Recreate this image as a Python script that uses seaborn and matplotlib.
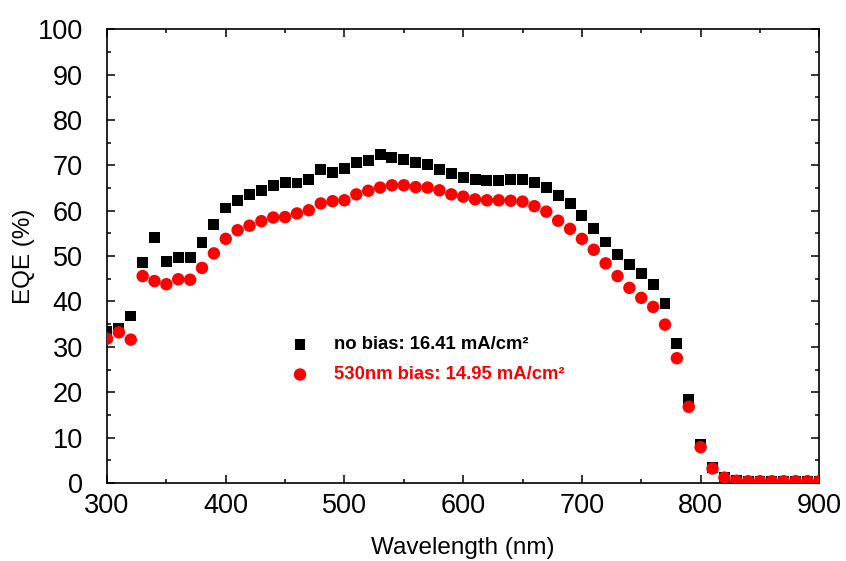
import pandas as pd
import matplotlib
matplotlib.use("Agg")
import matplotlib.pyplot as plt
import seaborn as sns
from matplotlib.ticker import MultipleLocator

sns.set_style("ticks")
matplotlib.rcParams['font.family'] = ["Liberation Sans", "DejaVu Sans"]
matplotlib.rcParams['text.color'] = "black"
matplotlib.rcParams['axes.labelcolor'] = "black"
matplotlib.rcParams['xtick.color'] = "black"
matplotlib.rcParams['ytick.color'] = "black"

# %% data
wavelength = list(range(300, 901, 10))

eqe_no_bias = [33.3, 34.0, 36.8, 48.5, 54.0, 48.9, 49.6, 49.6, 52.9, 56.9,
               60.6, 62.3, 63.6, 64.4, 65.5, 66.3, 66.1, 66.9, 69.1, 68.5,
               69.2, 70.6, 71.0, 72.4, 71.7, 71.3, 70.6, 70.1, 69.1, 68.2,
               67.4, 66.9, 66.6, 66.7, 66.8, 66.8, 66.3, 65.2, 63.4, 61.6,
               59.0, 56.0, 53.1, 50.4, 48.2, 46.2, 43.8, 39.6, 30.8, 18.5,
               8.6, 3.4, 1.2, 0.6, 0.4, 0.4, 0.3, 0.3, 0.3, 0.3, 0.3]

eqe_530_bias = [31.8, 33.2, 31.6, 45.6, 44.5, 43.8, 44.9, 44.8, 47.4, 50.6,
                53.8, 55.7, 56.7, 57.7, 58.5, 58.6, 59.4, 60.1, 61.6, 62.1,
                62.3, 63.6, 64.4, 65.1, 65.6, 65.6, 65.2, 65.1, 64.5, 63.6,
                63.1, 62.5, 62.3, 62.3, 62.2, 62.0, 61.0, 59.8, 57.8, 56.0,
                53.8, 51.4, 48.4, 45.6, 43.0, 40.8, 38.8, 34.9, 27.5, 16.8,
                7.9, 3.2, 1.2, 0.5, 0.4, 0.4, 0.4, 0.4, 0.4, 0.4, 0.4]

labels = ["no bias: 16.41 mA/cm\u00b2", "530nm bias: 14.95 mA/cm\u00b2"]

df = pd.DataFrame({"wavelength": wavelength,
                   "no_bias": eqe_no_bias,
                   "bias_530": eqe_530_bias})

# %% plot
fig = plt.figure(figsize=(8.46, 5.61), dpi=100)
ax = fig.add_axes([0.1265, 0.139, 0.842, 0.809])

sns.scatterplot(data=df, x="wavelength", y="no_bias", marker="s", s=62,
                color="black", edgecolor="none", label=labels[0], ax=ax, zorder=3)
sns.scatterplot(data=df, x="wavelength", y="bias_530", marker="o", s=80,
                color="#ff0000", edgecolor="none", label=labels[1], ax=ax, zorder=4)

ax.set_xlim(300, 900)
ax.set_ylim(0, 100)
ax.xaxis.set_major_locator(MultipleLocator(100))
ax.xaxis.set_minor_locator(MultipleLocator(50))
ax.yaxis.set_major_locator(MultipleLocator(10))
ax.yaxis.set_minor_locator(MultipleLocator(5))

for s in ax.spines.values():
    s.set_linewidth(1.2)
    s.set_color("black")
ax.tick_params(which="both", direction="in", top=True, right=True,
               width=1.1, color="black")
ax.tick_params(which="major", length=5.5, labelsize=19.5)
ax.tick_params(axis="x", which="major", pad=7.5)
ax.tick_params(axis="y", which="major", pad=17.5)
ax.tick_params(which="minor", length=3)

ax.set_xlabel("Wavelength (nm)", fontsize=17.5, labelpad=13)
ax.set_ylabel("EQE (%)", fontsize=17.5, labelpad=2)

leg = ax.legend(loc="upper left", bbox_to_anchor=(0.245, 0.323), frameon=False,
                prop={"weight": "bold", "size": 13.3}, borderpad=0,
                borderaxespad=0, handletextpad=0.85, labelspacing=0.7,
                scatterpoints=1)
for txt, col in zip(leg.get_texts(), ["black", "#ff0000"]):
    txt.set_color(col)

plt.savefig("out.png", dpi=100)
